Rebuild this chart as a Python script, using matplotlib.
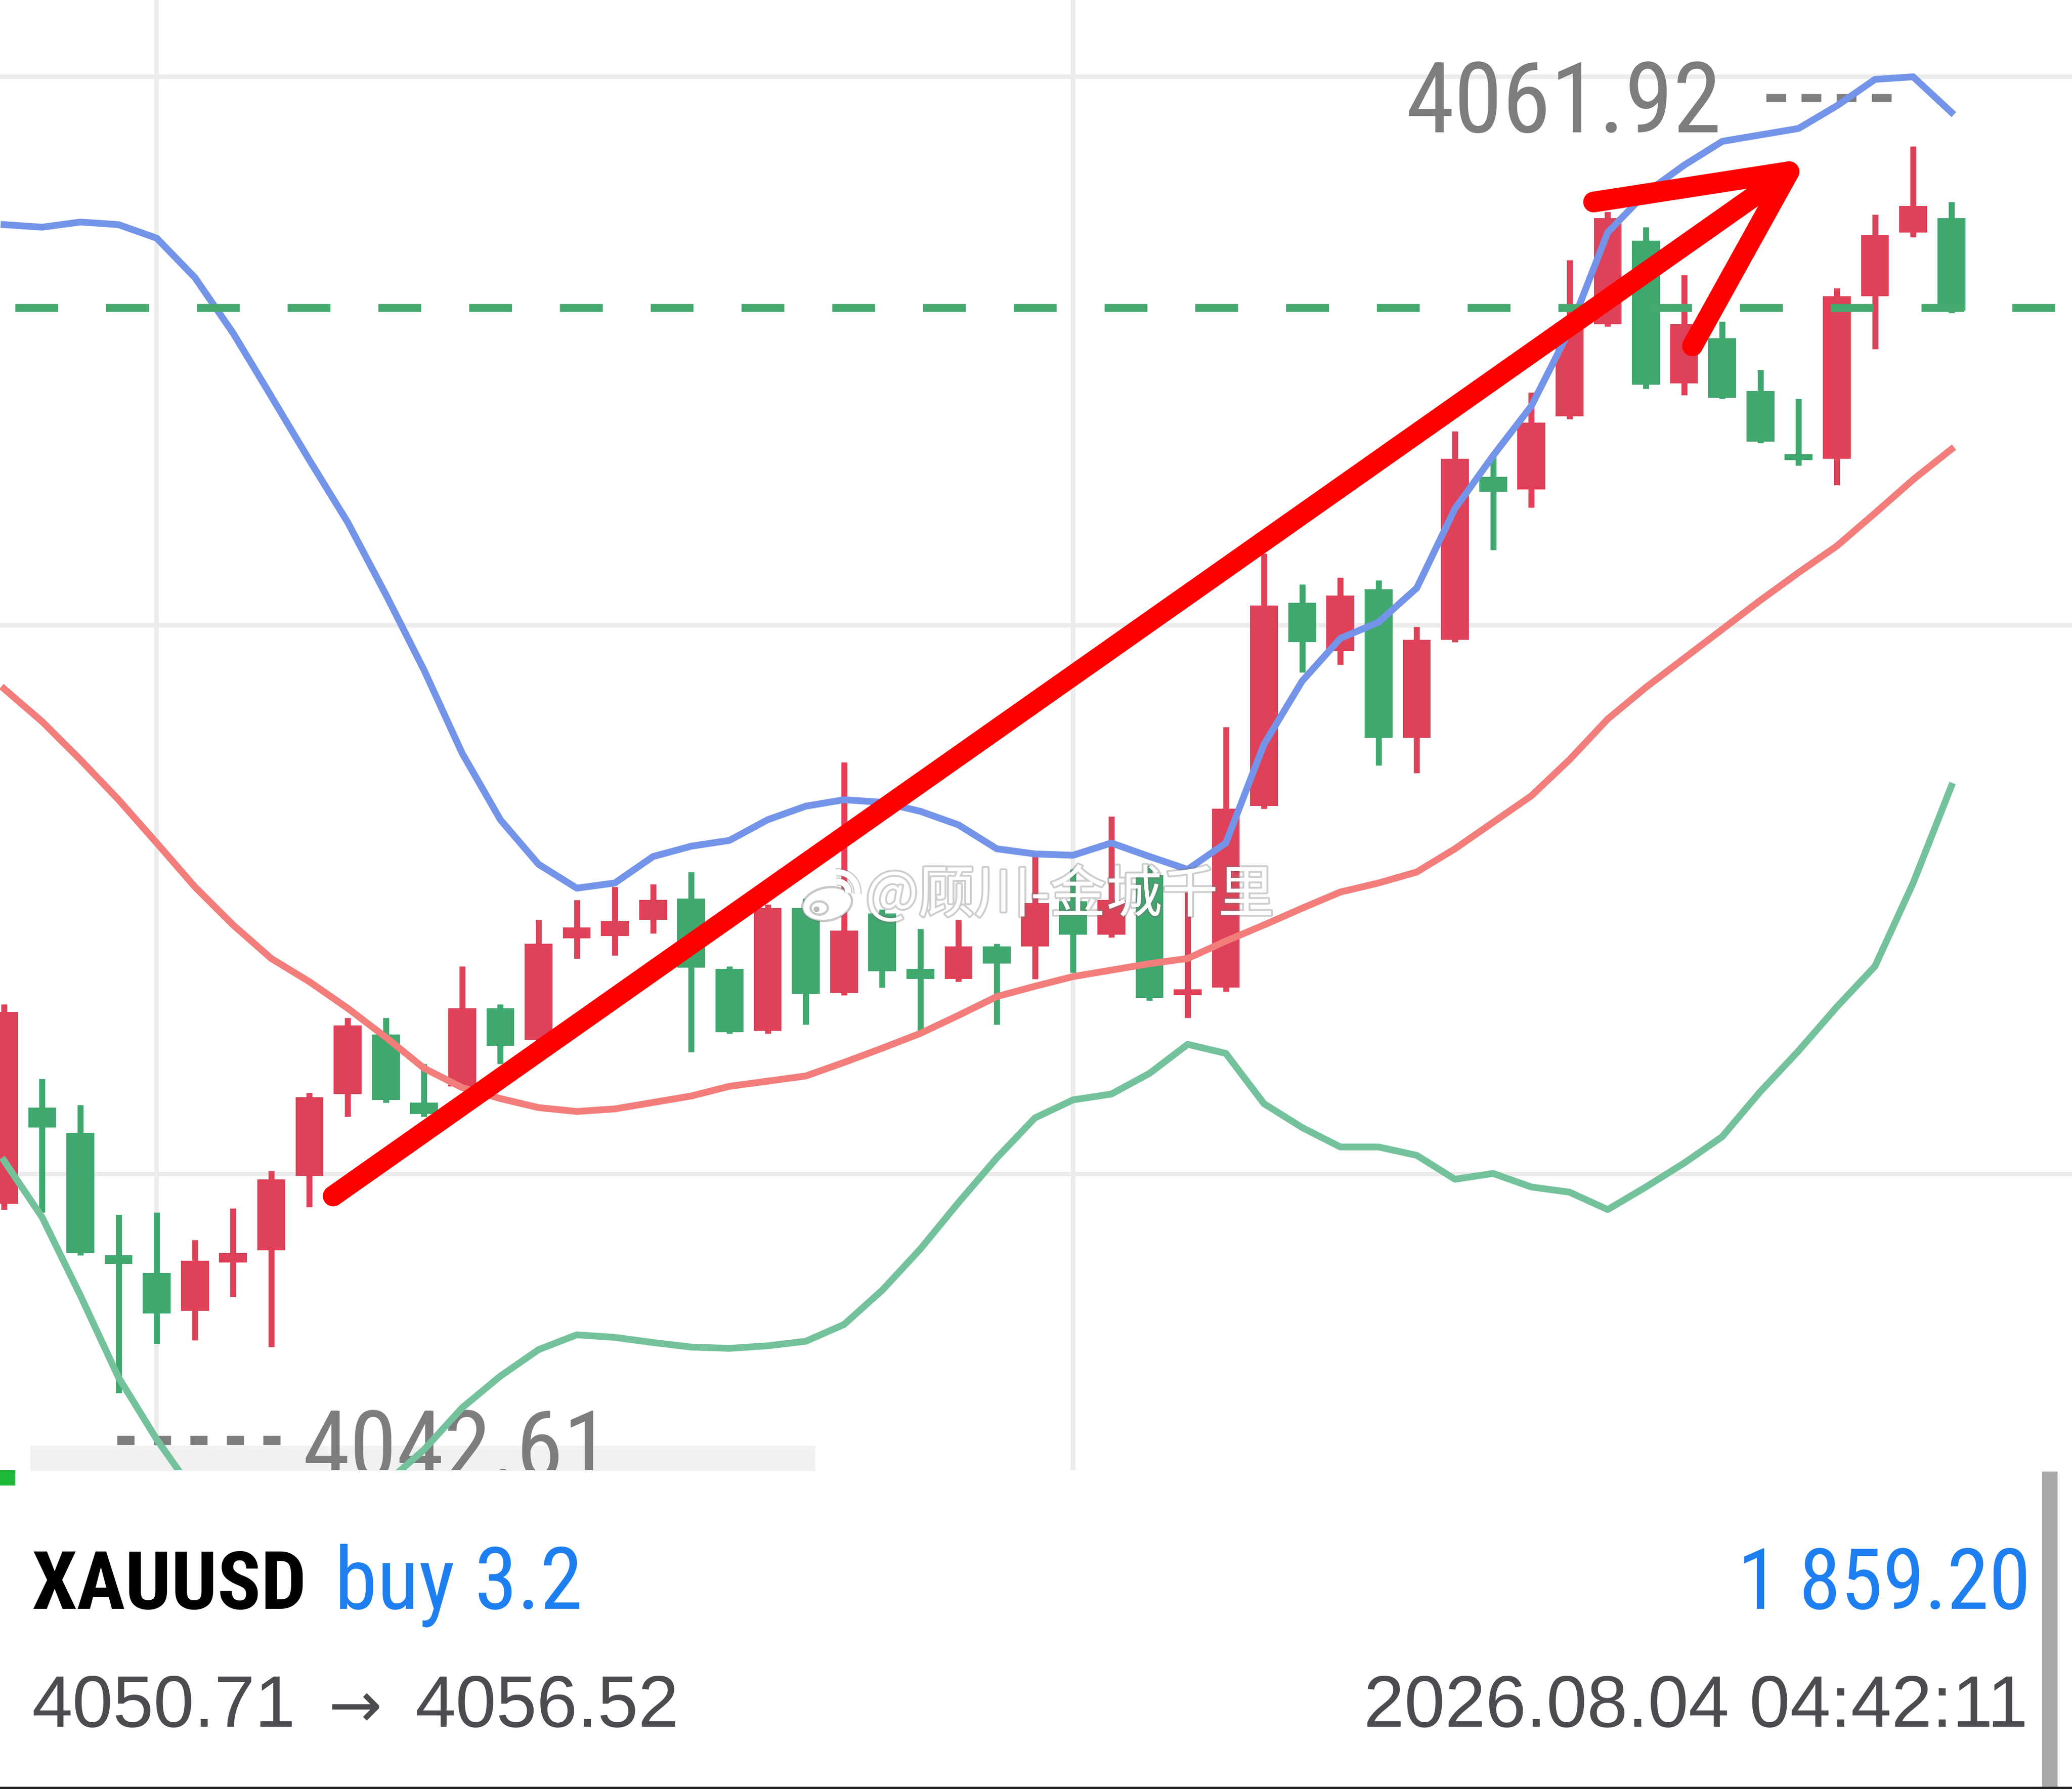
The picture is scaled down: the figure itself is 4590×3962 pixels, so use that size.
import os
import matplotlib
matplotlib.use("Agg")
import matplotlib.pyplot as plt
import matplotlib.patheffects as pe
from matplotlib import font_manager as fm
from matplotlib import patches, transforms

# ---- bars (price, one entry per candle) ----
OPEN = [4045.54, 4047.03, 4046.64, 4044.74, 4044.47, 4043.88, 4044.63, 4044.82, 4045.97, 4047.24,
        4048.16, 4047.11, 4047.36, 4048.57, 4048.08, 4049.65, 4049.69, 4049.94, 4050.27, 4049.18,
        4048.22, 4050.12, 4048.81, 4050.04, 4049.18, 4049.02, 4049.53, 4049.53, 4050.23, 4049.71,
        4050.63, 4048.77, 4048.89, 4051.70, 4054.85, 4054.10, 4055.06, 4052.76, 4054.28, 4056.80,
        4056.61, 4057.74, 4059.17, 4060.46, 4058.25, 4058.95, 4058.13, 4057.13, 4057.08, 4059.60,
        4060.59, 4060.81]
HIGH = [4048.63, 4047.48, 4047.07, 4045.37, 4045.41, 4044.98, 4045.47, 4046.05, 4047.26, 4048.42,
        4048.42, 4047.71, 4049.22, 4048.63, 4049.94, 4050.25, 4050.45, 4050.49, 4050.68, 4049.22,
        4050.18, 4050.27, 4052.38, 4050.10, 4049.80, 4049.94, 4049.57, 4050.92, 4050.72, 4051.54,
        4050.78, 4050.37, 4052.93, 4055.61, 4055.14, 4055.24, 4055.20, 4054.48, 4057.51, 4057.11,
        4058.11, 4060.16, 4060.91, 4060.67, 4059.93, 4059.21, 4058.46, 4058.01, 4059.73, 4060.87,
        4061.92, 4061.06]
LOW = [4045.45, 4045.41, 4044.74, 4042.61, 4043.37, 4043.43, 4044.10, 4043.32, 4045.49, 4046.89,
       4047.11, 4046.89, 4047.32, 4047.71, 4048.03, 4049.34, 4049.39, 4049.73, 4047.89, 4048.18,
       4048.18, 4048.32, 4048.77, 4048.89, 4048.16, 4048.98, 4048.32, 4049.02, 4049.12, 4049.67,
       4048.69, 4048.42, 4048.83, 4051.66, 4053.77, 4053.89, 4052.33, 4052.21, 4054.24, 4055.67,
       4056.33, 4057.70, 4059.13, 4058.17, 4058.07, 4058.01, 4057.33, 4056.98, 4056.68, 4058.78,
       4060.52, 4059.34]
CLOSE = [4048.51, 4046.72, 4044.78, 4044.61, 4043.84, 4044.66, 4044.78, 4045.92, 4047.19, 4048.30,
         4047.15, 4046.93, 4048.57, 4047.99, 4049.57, 4049.82, 4049.92, 4050.25, 4049.20, 4048.20,
         4050.12, 4048.79, 4049.77, 4049.14, 4049.02, 4049.53, 4049.26, 4050.20, 4049.71, 4050.25,
         4048.73, 4048.85, 4051.66, 4054.81, 4054.24, 4054.96, 4052.76, 4054.28, 4057.08, 4056.57,
         4057.64, 4059.17, 4060.81, 4058.23, 4059.17, 4058.03, 4057.35, 4057.06, 4059.60, 4060.55,
         4061.00, 4059.38]

# Bollinger bands
BB_UPPER = [4060.71, 4060.67, 4060.75, 4060.71, 4060.50, 4059.89, 4059.03, 4058.05, 4057.06, 4056.10,
            4054.98, 4053.81, 4052.52, 4051.49, 4050.80, 4050.43, 4050.51, 4050.92, 4051.08, 4051.17,
            4051.49, 4051.70, 4051.80, 4051.76, 4051.62, 4051.41, 4051.04, 4050.96, 4050.94, 4051.13,
            4050.92, 4050.72, 4051.13, 4052.66, 4053.64, 4054.30, 4054.55, 4055.08, 4056.31, 4057.13,
            4057.90, 4059.07, 4060.59, 4061.20, 4061.63, 4062.00, 4062.10, 4062.20, 4062.55, 4062.96,
            4063.00, 4062.45]
BB_MID = [4053.52, 4053.01, 4052.42, 4051.80, 4051.13, 4050.45, 4049.86, 4049.34, 4048.98, 4048.57,
          4048.12, 4047.64, 4047.34, 4047.17, 4047.03, 4046.97, 4047.01, 4047.11, 4047.21, 4047.36,
          4047.44, 4047.52, 4047.73, 4047.95, 4048.18, 4048.46, 4048.75, 4048.91, 4049.06, 4049.16,
          4049.26, 4049.34, 4049.61, 4049.86, 4050.12, 4050.37, 4050.51, 4050.68, 4051.04, 4051.45,
          4051.86, 4052.42, 4053.05, 4053.54, 4053.99, 4054.44, 4054.89, 4055.32, 4055.73, 4056.24,
          4056.76, 4057.23]
BB_LOWER = [4046.21, 4045.33, 4044.12, 4042.85, 4041.89, 4041.05, 4040.64, 4040.60, 4040.81, 4040.99,
            4041.21, 4041.73, 4042.38, 4042.87, 4043.28, 4043.51, 4043.47, 4043.39, 4043.32, 4043.30,
            4043.34, 4043.41, 4043.67, 4044.20, 4044.84, 4045.56, 4046.25, 4046.87, 4047.15, 4047.24,
            4047.56, 4048.01, 4047.87, 4047.09, 4046.72, 4046.42, 4046.42, 4046.29, 4045.92, 4046.01,
            4045.80, 4045.72, 4045.45, 4045.80, 4046.17, 4046.58, 4047.28, 4047.91, 4048.59, 4049.22,
            4050.51, 4052.01]

CURRENT_PRICE = 4059.42
GRID_PRICES = [4046.0, 4054.5, 4063.0]
GRID_BARS = [4, 28]

SYMBOL = "XAUUSD"
ORDER = "buy 3.2"
PROFIT = "1 859.20"
OPEN_PRICE = "4050.71"
LAST_PRICE = "4056.52"
TIMESTAMP = "2026.08.04 04:42:11"
WATERMARK = "@顾川-金城千里"

# hand drawn arrow on the screenshot (bar index, price)
ARROW_SHAFT = [(8.62, 4045.66), (46.75, 4061.53)]
ARROW_HEAD = [(41.63, 4061.06), (46.75, 4061.53), (44.22, 4058.83)]

RED = "#de4158"
GREEN = "#3fa86e"
BLUE_BAND = "#7394e8"
MID_BAND = "#f27d7a"
LOW_BAND = "#74c29c"


def condensed_font(bold):
    """Look for a narrow/condensed face among the installed fonts."""
    prefer = ["liberation", "noto", "roboto", "dejavu", "opensans", "open"]
    found = []
    for f in fm.fontManager.ttflist:
        base = os.path.basename(f.fname).lower()
        if not ("narrow" in base or "condensed" in base):
            continue
        if any(k in base for k in ("extracond", "semicond", "ultracond", "italic", "oblique",
                                   "light", "thin", "black", "medium", "semibold", "extrabold")):
            continue
        if bold != ("bold" in base):
            continue
        rank = next((i for i, p in enumerate(prefer) if base.startswith(p)), len(prefer))
        found.append((rank, f.fname))
    if found:
        return fm.FontProperties(fname=sorted(found)[0][1])
    return fm.FontProperties(family="Liberation Sans", weight="bold" if bold else "normal")


NARROW = condensed_font(False)
NARROW_BOLD = condensed_font(True)

plt.rcParams["font.family"] = ["Liberation Sans", "DejaVu Sans"]

W, H = 4590, 3962
fig = plt.figure(figsize=(W / 300, H / 300), dpi=300, facecolor="white")

# reference pixel grid of the screenshot (1568 x 1354, y down)
RW, RH = 1568.2, 1353.6
ref = transforms.Affine2D().scale(1 / RW, -1 / RH).translate(0, 1) + fig.transFigure


def fit(t, width_px, max_pt):
    # size text to the width it has in the screenshot, but no taller than its cap height
    r = fig.canvas.get_renderer()
    w = t.get_window_extent(r).width / (W / RW)
    t.set_fontsize(min(t.get_fontsize() * width_px / w, max_pt))


chart_bottom = 1112.5
ax = fig.add_axes([0, 1 - chart_bottom / RH, 1, chart_bottom / RH])
ax.set_facecolor("white")
ax.set_xlim(-0.104, 54.16)
ax.set_ylim(4041.41, 4064.19)
ax.set_axis_off()

# grid
for p in GRID_PRICES:
    ax.axhline(p, color="#ececec", lw=2.4, zorder=0.5)
for b in GRID_BARS:
    ax.axvline(b, color="#ececec", lw=2.4, zorder=0.5)

# faded toolbar strip at bottom of chart
ax.add_patch(patches.Rectangle((23, 1094), 594, 19, transform=ref, facecolor="#f1f1f1",
                               edgecolor="none", zorder=0.6, clip_on=False))

# high / low markers
hi_txt = f"{max(HIGH):.2f}"
lo_txt = f"{min(LOW):.2f}"
t_hi = ax.text(1064, 100, hi_txt, transform=ref, fontproperties=NARROW, fontsize=56,
               color="#7d7d7d", ha="left", va="baseline", zorder=1)
fit(t_hi, 239, 56)
ax.plot([1337, 1432], [74, 74], transform=ref, color="#7d7d7d", lw=4.2,
        dashes=(2.5, 1.95), dash_capstyle="butt", zorder=1)
t_lo = ax.text(229, 1119, lo_txt, transform=ref, fontproperties=NARROW, fontsize=56,
               color="#7d7d7d", ha="left", va="baseline", zorder=1, clip_on=True)
fit(t_lo, 233, 56)
ax.plot([89, 213], [1090, 1090], transform=ref, color="#7d7d7d", lw=4.9,
        dashes=(1.86, 2.1), dash_capstyle="butt", zorder=1)

# candles
idx = list(range(len(OPEN)))
colors = [RED if c >= o else GREEN for o, c in zip(OPEN, CLOSE)]
ax.vlines(idx, LOW, HIGH, colors=colors, lw=3.2, zorder=2)
bottoms = [min(o, c) for o, c in zip(OPEN, CLOSE)]
heights = [max(abs(c - o), 0.09) for o, c in zip(OPEN, CLOSE)]
ax.bar(idx, heights, bottom=bottoms, width=0.73, color=colors, linewidth=0, zorder=2.1)

# bollinger bands
ax.plot(idx, BB_UPPER, color=BLUE_BAND, lw=3.6, zorder=3, solid_joinstyle="round")
ax.plot(idx, BB_MID, color=MID_BAND, lw=3.6, zorder=3, solid_joinstyle="round")
ax.plot(idx, BB_LOWER, color=LOW_BAND, lw=3.6, zorder=3, solid_joinstyle="round")

# current price line
ax.axhline(CURRENT_PRICE, xmin=11.6 / RW, color="#45a86d", lw=4.2,
           dashes=(5.42, 6.07), dash_capstyle="butt", zorder=3.5)

# red marker arrow
ax.plot(*zip(*ARROW_SHAFT), color="#ff0000", lw=11, solid_capstyle="round", zorder=4)
ax.plot(*zip(*ARROW_HEAD), color="#ff0000", lw=11, solid_capstyle="round",
        solid_joinstyle="round", zorder=4)

# watermark
halo = [pe.withStroke(linewidth=2.0, foreground=(0.45, 0.45, 0.45, 0.35))]
ax.text(655, 678, WATERMARK, transform=ref, fontsize=29.8, color="white",
        family=["Noto Sans CJK SC", "DejaVu Sans"], ha="left", va="center",
        zorder=6, path_effects=halo)
edge = (0.45, 0.45, 0.45, 0.4)
ax.add_patch(patches.Ellipse((626, 684), 38, 25, angle=-12, transform=ref, facecolor="white",
                             edgecolor=edge, lw=1.2, zorder=6, clip_on=False))
ax.add_patch(patches.Ellipse((620, 687), 13, 10, transform=ref, facecolor="none",
                             edgecolor=edge, lw=1.2, zorder=6.1, clip_on=False))
ax.add_patch(patches.Circle((618, 688), 2.2, transform=ref, facecolor=(0.55, 0.55, 0.55, 0.6),
                            edgecolor="none", zorder=6.2, clip_on=False))
for r in (8, 15):
    ax.add_patch(patches.Arc((634, 675), r * 2, r * 2, theta1=-95, theta2=5, transform=ref,
                             color="white", lw=3.2, zorder=6, clip_on=False,
                             path_effects=[pe.withStroke(linewidth=4.4, foreground=edge)]))

# ---- bottom info panel ----
fig.patches.append(patches.Rectangle((0, 1112.5), 11.5, 11.5, transform=ref,
                                     facecolor="#1db83a", edgecolor="none"))
fig.patches.append(patches.Rectangle((1545.5, 1113.5), 11.8, 241, transform=ref,
                                     facecolor="#a8a8a8", edgecolor="none"))
fig.lines.append(plt.Line2D([0, RW], [1353, 1353], transform=ref, color="#222222", lw=1.4))

t_sym = fig.text(24, 1217.4, SYMBOL, transform=ref, fontproperties=NARROW_BOLD, fontsize=47,
                 color="black", ha="left", va="baseline")
fit(t_sym, 208, 47)
t_ord = fig.text(253, 1217.4, ORDER, transform=ref, fontproperties=NARROW, fontsize=47,
                 color="#1e7ff0", ha="left", va="baseline")
fit(t_ord, 188, 47)
t_pl = fig.text(1537, 1217.4, PROFIT, transform=ref, fontproperties=NARROW, fontsize=47,
                color="#1e7ff0", ha="right", va="baseline")
fit(t_pl, 222, 47)

grey_txt = dict(transform=ref, fontsize=38.8, color="#4b4b50", va="baseline",
                family=["Liberation Sans", "DejaVu Sans"])
fig.text(24, 1306.6, OPEN_PRICE, ha="left", **grey_txt)
fig.text(269, 1306.6, "\u2192", ha="center", **{**grey_txt, "family": ["DejaVu Sans"], "fontsize": 34})
fig.text(314, 1306.6, LAST_PRICE, ha="left", **grey_txt)
fig.text(1535, 1306.6, TIMESTAMP, ha="right", **grey_txt)

fig.savefig("out.png", dpi=300, facecolor="white")
